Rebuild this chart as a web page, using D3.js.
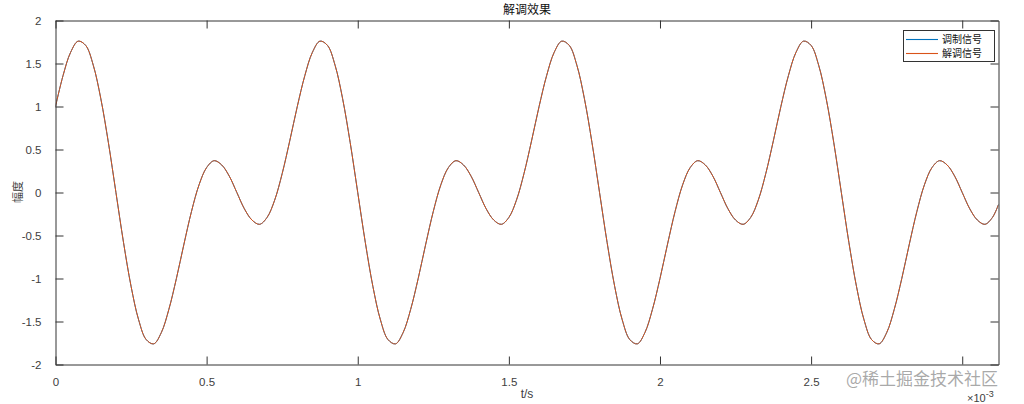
<!DOCTYPE html>
<html><head><meta charset="utf-8">
<script src="https://cdn.jsdelivr.net/npm/d3@7"></script>
<style>body{margin:0;background:#fff;}svg{display:block;}</style>
</head><body>
<svg id="c" width="1024" height="404"></svg>
<script>
// time in ms (axis shows ×10^-3 s)
const timeMs = [
0,0.025,0.05,0.075,0.1,0.125,0.15,0.175,0.2,0.225,0.25,0.275,0.3,0.325,0.35,0.375,
0.4,0.425,0.45,0.475,0.5,0.525,0.55,0.575,0.6,0.625,0.65,0.675,0.7,0.725,0.75,0.775,
0.8,0.825,0.85,0.875,0.9,0.925,0.95,0.975,1.0,1.025,1.05,1.075,1.1,1.125,1.15,1.175,
1.2,1.225,1.25,1.275,1.3,1.325,1.35,1.375,1.4,1.425,1.45,1.475,1.5,1.525,1.55,1.575,
1.6,1.625,1.65,1.675,1.7,1.725,1.75,1.775,1.8,1.825,1.85,1.875,1.9,1.925,1.95,1.975,
2.0,2.025,2.05,2.075,2.1,2.125,2.15,2.175,2.2,2.225,2.25,2.275,2.3,2.325,2.35,2.375,
2.4,2.425,2.45,2.475,2.5,2.525,2.55,2.575,2.6,2.625,2.65,2.675,2.7,2.725,2.75,2.775,
2.8,2.825,2.85,2.875,2.9,2.925,2.95,2.975,3.0,3.025,3.05,3.075,3.1,3.12];
const modulated = [
1.00,1.36,1.63,1.76,1.71,1.48,1.09,0.58,0.00,-0.58,-1.09,-1.48,-1.71,-1.76,-1.63,-1.36,
-1.00,-0.60,-0.22,0.09,0.29,0.37,0.32,0.19,0.00,-0.19,-0.32,-0.37,-0.29,-0.09,0.22,0.60,
1.00,1.36,1.63,1.76,1.71,1.48,1.09,0.58,0.00,-0.58,-1.09,-1.48,-1.71,-1.76,-1.63,-1.36,
-1.00,-0.60,-0.22,0.09,0.29,0.37,0.32,0.19,0.00,-0.19,-0.32,-0.37,-0.29,-0.09,0.22,0.60,
1.00,1.36,1.63,1.76,1.71,1.48,1.09,0.58,0.00,-0.58,-1.09,-1.48,-1.71,-1.76,-1.63,-1.36,
-1.00,-0.60,-0.22,0.09,0.29,0.37,0.32,0.19,0.00,-0.19,-0.32,-0.37,-0.29,-0.09,0.22,0.60,
1.00,1.36,1.63,1.76,1.71,1.48,1.09,0.58,0.00,-0.58,-1.09,-1.48,-1.71,-1.76,-1.63,-1.36,
-1.00,-0.60,-0.22,0.09,0.29,0.37,0.32,0.19,0.00,-0.19,-0.32,-0.37,-0.29,-0.14];
const demodulated = [
1.00,1.36,1.63,1.76,1.71,1.48,1.09,0.58,0.00,-0.58,-1.09,-1.48,-1.71,-1.76,-1.63,-1.36,
-1.00,-0.60,-0.22,0.09,0.29,0.37,0.32,0.19,0.00,-0.19,-0.32,-0.37,-0.29,-0.09,0.22,0.60,
1.00,1.36,1.63,1.76,1.71,1.48,1.09,0.58,0.00,-0.58,-1.09,-1.48,-1.71,-1.76,-1.63,-1.36,
-1.00,-0.60,-0.22,0.09,0.29,0.37,0.32,0.19,0.00,-0.19,-0.32,-0.37,-0.29,-0.09,0.22,0.60,
1.00,1.36,1.63,1.76,1.71,1.48,1.09,0.58,0.00,-0.58,-1.09,-1.48,-1.71,-1.76,-1.63,-1.36,
-1.00,-0.60,-0.22,0.09,0.29,0.37,0.32,0.19,0.00,-0.19,-0.32,-0.37,-0.29,-0.09,0.22,0.60,
1.00,1.36,1.63,1.76,1.71,1.48,1.09,0.58,0.00,-0.58,-1.09,-1.48,-1.71,-1.76,-1.63,-1.36,
-1.00,-0.60,-0.22,0.09,0.29,0.37,0.32,0.19,0.00,-0.19,-0.32,-0.37,-0.29,-0.14];
const xTicks = [0,0.5,1,1.5,2,2.5,3];
// the "3" label is hidden under the watermark in the reference
const xTickLabels = ["0","0.5","1","1.5","2","2.5",""];
const yTicks = [-2,-1.5,-1,-0.5,0,0.5,1,1.5,2];
const yTickLabels = ["-2","-1.5","-1","-0.5","0","0.5","1","1.5","2"];
const seriesNames = ["调制信号","解调信号"];
const seriesColors = ["#0072BD","#D95319"];
const titleText = "解调效果";
const xLabel = "t/s";
const yLabel = "幅度";

const svg = d3.select("#c");
const L=55.5, R=998.5, T=20.5, B=364.5;
const x = d3.scaleLinear().domain([0,3.12]).range([L,R]);
const y = d3.scaleLinear().domain([-2,2]).range([B,T]);
const axColor = "#333333";
const latin = "'Liberation Sans', Arial, sans-serif";
const cjk = "'Noto Sans CJK SC', sans-serif";

svg.append("clipPath").attr("id","pc").append("rect")
  .attr("x",L).attr("y",T).attr("width",R-L).attr("height",B-T);

const series = [modulated, demodulated];
const line = d3.line().x(d=>x(d[0])).y(d=>y(d[1])).curve(d3.curveCatmullRom.alpha(0.5));
series.forEach((vals,i)=>{
  svg.append("path").attr("clip-path","url(#pc)")
    .datum(timeMs.map((t,j)=>[t,vals[j]]))
    .attr("d",line).attr("fill","none")
    .attr("stroke",seriesColors[i]).attr("stroke-width",1);
});

// axes (box with inward ticks)
const tl = 8;
const gB = svg.append("g").attr("transform",`translate(0,${B})`)
  .call(d3.axisBottom(x).tickValues(xTicks).tickFormat((d,i)=>xTickLabels[i]).tickSizeInner(-tl).tickSizeOuter(0).tickPadding(tl+5));
const gT = svg.append("g").attr("transform",`translate(0,${T})`)
  .call(d3.axisTop(x).tickValues(xTicks).tickFormat("").tickSizeInner(-tl).tickSizeOuter(0));
const gL = svg.append("g").attr("transform",`translate(${L},0)`)
  .call(d3.axisLeft(y).tickValues(yTicks).tickFormat(d=>yTickLabels[yTicks.indexOf(d)]).tickSizeInner(-tl).tickSizeOuter(0).tickPadding(tl+6));
const gR = svg.append("g").attr("transform",`translate(${R},0)`)
  .call(d3.axisRight(y).tickValues(yTicks).tickFormat("").tickSizeInner(-tl).tickSizeOuter(0));
[gB,gT,gL,gR].forEach(g=>{
  g.selectAll("path").attr("stroke",axColor).attr("stroke-width",1);
  g.selectAll("line").attr("stroke",axColor).attr("stroke-width",1);
  g.selectAll("text").attr("fill","#404040").style("font-family",latin).style("font-size","11.5px");
});

// title & labels
svg.append("text").attr("x",(L+R)/2).attr("y",14).attr("text-anchor","middle")
  .style("font-family",cjk).style("font-size","12px").attr("fill","#111").text(titleText);
svg.append("text").attr("x",527).attr("y",398).attr("text-anchor","middle")
  .style("font-family",latin).style("font-size","12px").attr("fill","#404040").text(xLabel);
svg.append("text").attr("transform","translate(22,192) rotate(-90)").attr("text-anchor","middle")
  .style("font-family",cjk).style("font-size","11px").attr("fill","#404040").text(yLabel);
const ex = svg.append("text").attr("x",967).attr("y",402)
  .style("font-family",latin).style("font-size","11px").attr("fill","#404040");
ex.append("tspan").text("×10");
ex.append("tspan").attr("dy",-5).style("font-size","9px").text("-3");

// legend
const lg = svg.append("g");
lg.append("rect").attr("x",903.5).attr("y",30.5).attr("width",91).attr("height",31)
  .attr("fill","#fff").attr("stroke",axColor).attr("stroke-width",1);
seriesNames.forEach((n,i)=>{
  const yy = 39 + i*14;
  lg.append("line").attr("x1",906).attr("x2",938).attr("y1",yy+0.5).attr("y2",yy+0.5)
    .attr("stroke",seriesColors[i]).attr("stroke-width",1.1);
  lg.append("text").attr("x",942).attr("y",yy+4).style("font-family",cjk).style("font-size","10px")
    .attr("fill","#111").text(n);
});

// watermark
svg.append("text").attr("x",846).attr("y",385).style("font-family",cjk).style("font-size","17px")
  .attr("fill","#9a9a9a").attr("fill-opacity",0.85)
  .text("@稀土掘金技术社区");
</script>
</body></html>
